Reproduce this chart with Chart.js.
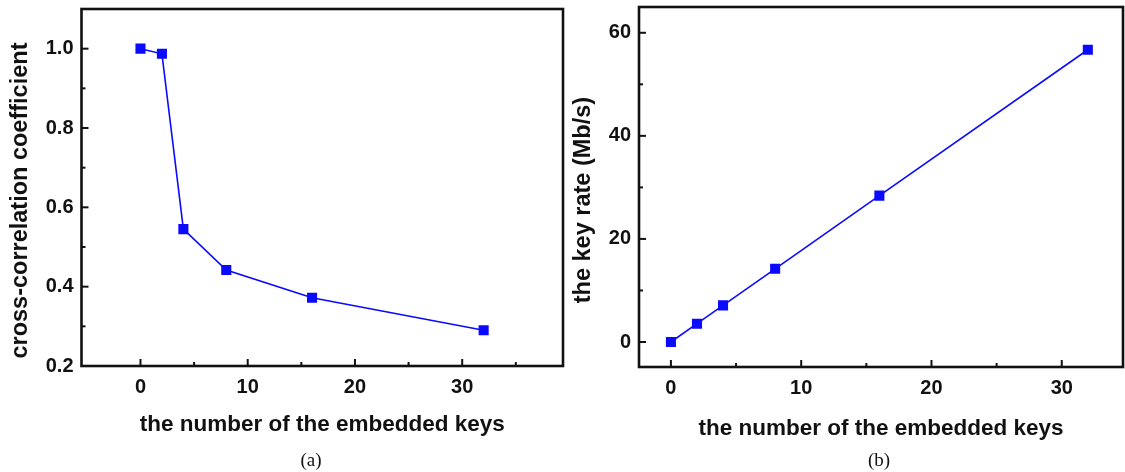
<!DOCTYPE html>
<html>
<head>
<meta charset="utf-8">
<script src="https://cdn.jsdelivr.net/npm/chart.js@4.4.1/dist/chart.umd.min.js"></script>
<style>
  html, body { margin: 0; padding: 0; background: #fff; }
  #wrap { position: relative; width: 1125px; height: 472px; overflow: hidden; }
  .panel { position: absolute; top: 0; }
  .cap { position: absolute; font-family: "Liberation Serif", "Times New Roman", serif; font-size: 19px; color: #111; transform: translate(-50%, -50%); }
</style>
</head>
<body>
<div id="wrap">
  <div class="panel" style="left:0px"><canvas id="chartA" width="565" height="472"></canvas></div>
  <div class="panel" style="left:565px"><canvas id="chartB" width="560" height="472"></canvas></div>
  <div class="cap" style="left:311px; top:460px">(a)</div>
  <div class="cap" style="left:879px; top:460px">(b)</div>
</div>
<script>
// data
const embeddedKeys = [0, 2, 4, 8, 16, 32];
const crossCorrelation = [1.0, 0.987, 0.545, 0.442, 0.372, 0.29];
const keyRate = [0, 3.55, 7.1, 14.2, 28.4, 56.7];

// tick labels
const xTicks = [0, 10, 20, 30];
const xMinorA = [5, 15, 25, 35];
const xMinorB = [5, 15, 25];
const yTicksA = [0.2, 0.4, 0.6, 0.8, 1.0];
const yMinorA = [0.3, 0.5, 0.7, 0.9];
const yTicksB = [0, 20, 40, 60];
const yMinorB = [10, 30, 50];

const BLUE = '#0a0aff';
const FAMILY = '"Liberation Sans", Arial, sans-serif';
const tickFont = { family: FAMILY, size: 20, weight: 'bold' };
const xTitleFont = { family: FAMILY, size: 22.5, weight: 'bold' };
const yTitleFont = { family: FAMILY, size: 23.5, weight: 'bold' };

// frame + inward ticks
const framePlugin = {
  id: 'frame',
  afterDraw(chart, args, opts) {
    const { ctx, chartArea: a, scales } = chart;
    ctx.save();
    ctx.strokeStyle = '#111';
    ctx.lineWidth = 2;
    const tick = (vals, len, axis) => {
      vals.forEach(v => {
        ctx.beginPath();
        if (axis === 'x') {
          const px = scales.x.getPixelForValue(v);
          ctx.moveTo(px, a.bottom); ctx.lineTo(px, a.bottom - len);
        } else {
          const py = scales.y.getPixelForValue(v);
          ctx.moveTo(a.left, py); ctx.lineTo(a.left + len, py);
        }
        ctx.stroke();
      });
    };
    tick(opts.xMajor, 7, 'x');
    tick(opts.xMinor, 4, 'x');
    tick(opts.yMajor, 7, 'y');
    tick(opts.yMinor, 4, 'y');
    ctx.lineWidth = 2.6;
    ctx.strokeRect(a.left, a.top, a.right - a.left, a.bottom - a.top);
    ctx.restore();
  }
};

const noPad = s => { s.paddingTop = 0; s.paddingBottom = 0; s.paddingLeft = 0; s.paddingRight = 0; };

function makeChart(id, values, o) {
  return new Chart(document.getElementById(id), {
    type: 'line',
    data: {
      datasets: [{
        data: embeddedKeys.map((k, i) => ({ x: k, y: values[i] })),
        borderColor: BLUE,
        backgroundColor: BLUE,
        borderWidth: 1.6,
        pointStyle: 'rect',
        pointRadius: 6,
        pointHoverRadius: 6,
        tension: 0
      }]
    },
    options: {
      responsive: false,
      animation: false,
      events: [],
      layout: { autoPadding: false, padding: { top: o.top, right: o.right, left: 0, bottom: 0 } },
      plugins: {
        legend: { display: false },
        tooltip: { enabled: false },
        frame: o.frame
      },
      scales: {
        x: {
          type: 'linear',
          min: o.xMin, max: o.xMax,
          grid: { display: false, drawTicks: false },
          border: { display: false },
          afterBuildTicks: s => { s.ticks = xTicks.map(v => ({ value: v })); },
          afterFit: s => { s.height = o.xHeight; noPad(s); },
          ticks: { font: tickFont, color: '#111', padding: o.xPad, maxRotation: 0 },
          title: {
            display: true, text: 'the number of the embedded keys', color: '#111',
            font: xTitleFont, padding: { top: 0, bottom: o.xTitlePad }
          }
        },
        y: {
          min: o.yMin, max: o.yMax,
          grid: { display: false, drawTicks: false },
          border: { display: false },
          afterBuildTicks: s => { s.ticks = o.yTicks.map(v => ({ value: v })); },
          afterFit: s => { s.width = o.yWidth; noPad(s); },
          ticks: { font: tickFont, color: '#111', padding: o.yPad, callback: o.yFmt },
          title: {
            display: true, text: o.yTitle + '    ', color: '#111',
            font: yTitleFont, padding: { top: o.yTitlePad, bottom: 0 }
          }
        }
      }
    },
    plugins: [framePlugin]
  });
}

makeChart('chartA', crossCorrelation, {
  top: 9, right: 2, xHeight: 106, yWidth: 81.5,
  xMin: -5.5, xMax: 39.4, yMin: 0.2, yMax: 1.1,
  yTicks: yTicksA, yFmt: v => v.toFixed(1),
  xPad: 9, xTitlePad: 34, yPad: 8, yTitlePad: 6,
  yTitle: 'cross-correlation coefficient',
  frame: { xMajor: xTicks, xMinor: xMinorA, yMajor: yTicksA, yMinor: yMinorA }
});

makeChart('chartB', keyRate, {
  top: 7, right: 2, xHeight: 105, yWidth: 74,
  xMin: -2.45, xMax: 34.7, yMin: -4.85, yMax: 65,
  yTicks: yTicksB, yFmt: v => String(v),
  xPad: 9, xTitlePad: 29.5, yPad: 8, yTitlePad: 4,
  yTitle: 'the key rate (Mb/s)',
  frame: { xMajor: xTicks, xMinor: xMinorB, yMajor: yTicksB, yMinor: yMinorB }
});
</script>
</body>
</html>
